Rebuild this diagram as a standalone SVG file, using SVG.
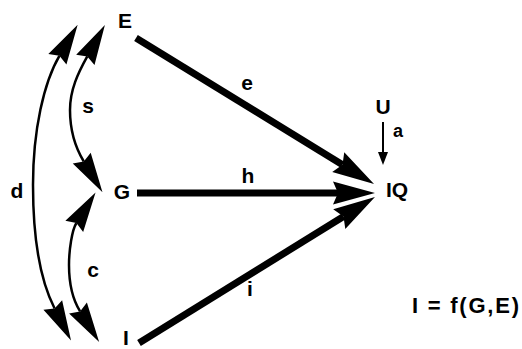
<svg xmlns="http://www.w3.org/2000/svg" width="522" height="349" viewBox="0 0 522 349">
  <style>
    .lbl { font-family: "Liberation Sans", Arial, Helvetica, sans-serif; font-weight: bold; font-size: 21px; fill: #000; text-anchor: middle; }
    .thick { fill: none; stroke: #000; stroke-width: 7; stroke-linecap: butt; }
    .curve { fill: none; stroke: #000; stroke-width: 2.5; }
    .thin { fill: none; stroke: #000; stroke-width: 2; }
  </style>
  <defs>
    <!-- large notched head for the heavy paths -->
    <marker id="headBig" markerUnits="userSpaceOnUse" markerWidth="50" markerHeight="30" viewBox="-2 -15 50 30" refX="5" refY="0" orient="auto">
      <path d="M0,-11.5 L42,0 L0,11.5 L5,0 Z" fill="#000"/>
    </marker>
    <!-- narrow head for the curved correlation arcs -->
    <marker id="headArc" markerUnits="userSpaceOnUse" markerWidth="50" markerHeight="30" viewBox="-2 -15 50 30" refX="4" refY="0" orient="auto-start-reverse">
      <path d="M0,-10.5 L40,0 L0,10.5 L4,0 Z" fill="#000"/>
    </marker>
  </defs>

  <g id="connectors">
    <!-- E -> IQ, G -> IQ, I -> IQ -->
    <path id="edge-e" class="thick" d="M136,38 L342.5,164.7" marker-end="url(#headBig)"/>
    <path id="edge-h" class="thick" d="M137,193 L338,193" marker-end="url(#headBig)"/>
    <path id="edge-i" class="thick" d="M139,343 L343.5,216.5" marker-end="url(#headBig)"/>
    <!-- U -> IQ -->
    <path id="edge-a" class="thin" d="M383,122 L383,153"/>
    <polygon points="378,152 388,152 383,165" fill="#000"/>
    <!-- correlations -->
    <path id="edge-d" class="curve" d="M59.4,55.8 C44,82 33,130 33,185 C33,235 40,280 54.6,308.5" marker-start="url(#headArc)" marker-end="url(#headArc)"/>
    <path id="edge-s" class="curve" d="M87.3,56.4 C78,73 70,90 70,110 C70,130 75,147 83.8,161.5" marker-start="url(#headArc)" marker-end="url(#headArc)"/>
    <path id="edge-c" class="curve" d="M76.4,223 C72,230 69,250 69,265 C69,285 73,300 80.1,311.4" marker-start="url(#headArc)" marker-end="url(#headArc)"/>
  </g>

  <g id="labels">
    <text class="lbl" x="247" y="90">e</text>
    <text class="lbl" x="248" y="183">h</text>
    <text class="lbl" x="250" y="296">i</text>
    <text class="lbl" x="398" y="137" style="font-size:18px">a</text>
    <text class="lbl" x="17" y="198">d</text>
    <text class="lbl" x="88" y="113">s</text>
    <text class="lbl" x="93" y="277">c</text>
  </g>

  <g id="node-E"><text class="lbl" x="125" y="28">E</text></g>
  <g id="node-G"><text class="lbl" x="122" y="199">G</text></g>
  <g id="node-I"><text class="lbl" x="126" y="345">I</text></g>
  <g id="node-IQ"><text class="lbl" x="397" y="197">IQ</text></g>
  <g id="node-U"><text class="lbl" x="383" y="114">U</text></g>
  <g id="formula"><text class="lbl" x="412" y="313" style="text-anchor:start;font-size:22px" textLength="107" lengthAdjust="spacing">I = f(G,E)</text></g>
</svg>
